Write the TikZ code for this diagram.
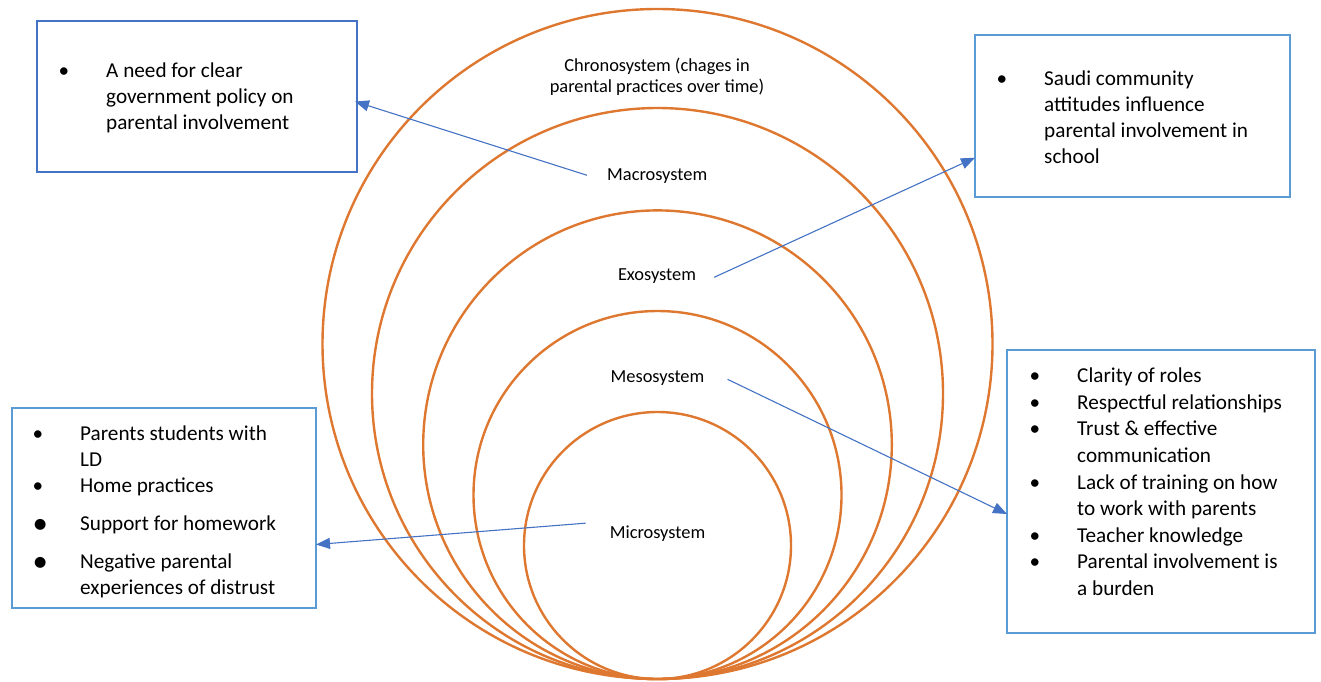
\documentclass[tikz,border=0pt]{standalone}
\usepackage{fontspec}
\setmainfont{Carlito}
\usepackage{graphicx}
\usetikzlibrary{arrows.meta}
\definecolor{ringorange}{RGB}{222,120,48}
\definecolor{arrowblue}{RGB}{68,114,196}
\definecolor{boxblue}{RGB}{91,155,213}
\newcommand{\bul}{\makebox[47.5pt][l]{\textbullet}}
\newcommand{\bigbul}{\makebox[47.5pt][l]{\raisebox{-3pt}{\scalebox{1.45}{\textbullet}}}}
\begin{document}
\begin{tikzpicture}[x=1pt,y=-1pt,
  ring/.style={draw=ringorange,line width=2.4pt},
  infobox/.style={draw=boxblue,line width=2.4pt,rectangle,inner sep=0pt},
  link/.style={draw=arrowblue,line width=1.1pt,-{Triangle[length=14pt,width=11pt]}},
  lbl/.style={font=\fontsize{18.4}{20.5}\selectfont,inner sep=0pt},
  bullets/.style={font=\fontsize{21.2}{26}\selectfont,inner sep=0pt,anchor=base west}]
\useasboundingbox (0,0) rectangle (1321,681);

% rings, all touching at the bottom
\foreach \r in {335,285.5,234.3,184,133.5}
  \draw[ring] (657.5,679-\r) circle [radius=\r pt];

% boxes
\node[infobox,draw=arrowblue,minimum width=320pt,minimum height=151pt] (tl) at (197,96.5) {};
\node[infobox,minimum width=315pt,minimum height=162pt] (tr) at (1132.5,116) {};
\node[infobox,minimum width=304pt,minimum height=200pt] (bl) at (164,508) {};
\node[infobox,minimum width=308pt,minimum height=283pt] (br) at (1161,491.5) {};

% box texts
\node[bullets] (tltext) at (58.5,77) {\begin{tabular}[t]{@{}l@{}l@{}}
\bul & A need for clear\\ & government policy on\\ & parental involvement\end{tabular}};
\node[bullets] (trtext) at (996.5,85.7) {\begin{tabular}[t]{@{}l@{}l@{}}
\bul & Saudi community\\ & attitudes influence\\ & parental involvement in\\ & school\end{tabular}};
\node[bullets] (bltext) at (32.5,440) {\begin{tabular}[t]{@{}l@{}l@{}}
\bul & Parents students with\\ & LD\\
\bul & Home practices\\[12pt]
\bigbul & Support for homework\\[12.5pt]
\bigbul & Negative parental\\ & experiences of distrust\end{tabular}};
\node[bullets,font=\fontsize{21.2}{26.6}\selectfont] (brtext) at (1029.5,382.7) {\begin{tabular}[t]{@{}l@{}l@{}}
\bul & Clarity of roles\\
\bul & Respectful relationships\\
\bul & Trust \& effective\\ & communication\\
\bul & Lack of training on how\\ & to work with parents\\
\bul & Teacher knowledge\\
\bul & Parental involvement is\\ & a burden\end{tabular}};

% ring labels
\node[lbl,anchor=base] (chrono) at (657,71.7) {\begin{tabular}[t]{@{}c@{}}Chronosystem (chages in\\parental practices over time)\end{tabular}};
\node[lbl,anchor=base] (macro) at (657.2,180.7) {Macrosystem};
\node[lbl,anchor=base] (exo) at (657,280.7) {Exosystem};
\node[lbl,anchor=base] (meso) at (657.5,382.7) {Mesosystem};
\node[lbl,anchor=base] (micro) at (657.5,538) {Microsystem};

% arrow ends on the boxes
\coordinate (tlin) at (355,101.5);
\coordinate (trin) at (975,157.7);
\coordinate (brin) at (1007,514);
\coordinate (blin) at (316,544.5);

\draw[link] ([xshift=-20pt,yshift=1pt]macro.west) -- (tlin);
\draw[link] ([xshift=18pt,yshift=-1pt]exo.east) -- (trin);
\draw[link] ([xshift=23pt,yshift=-1pt]meso.east) -- (brin);
\draw[link] ([xshift=-24pt,yshift=10pt]micro.west) -- (blin);
\end{tikzpicture}
\end{document}
